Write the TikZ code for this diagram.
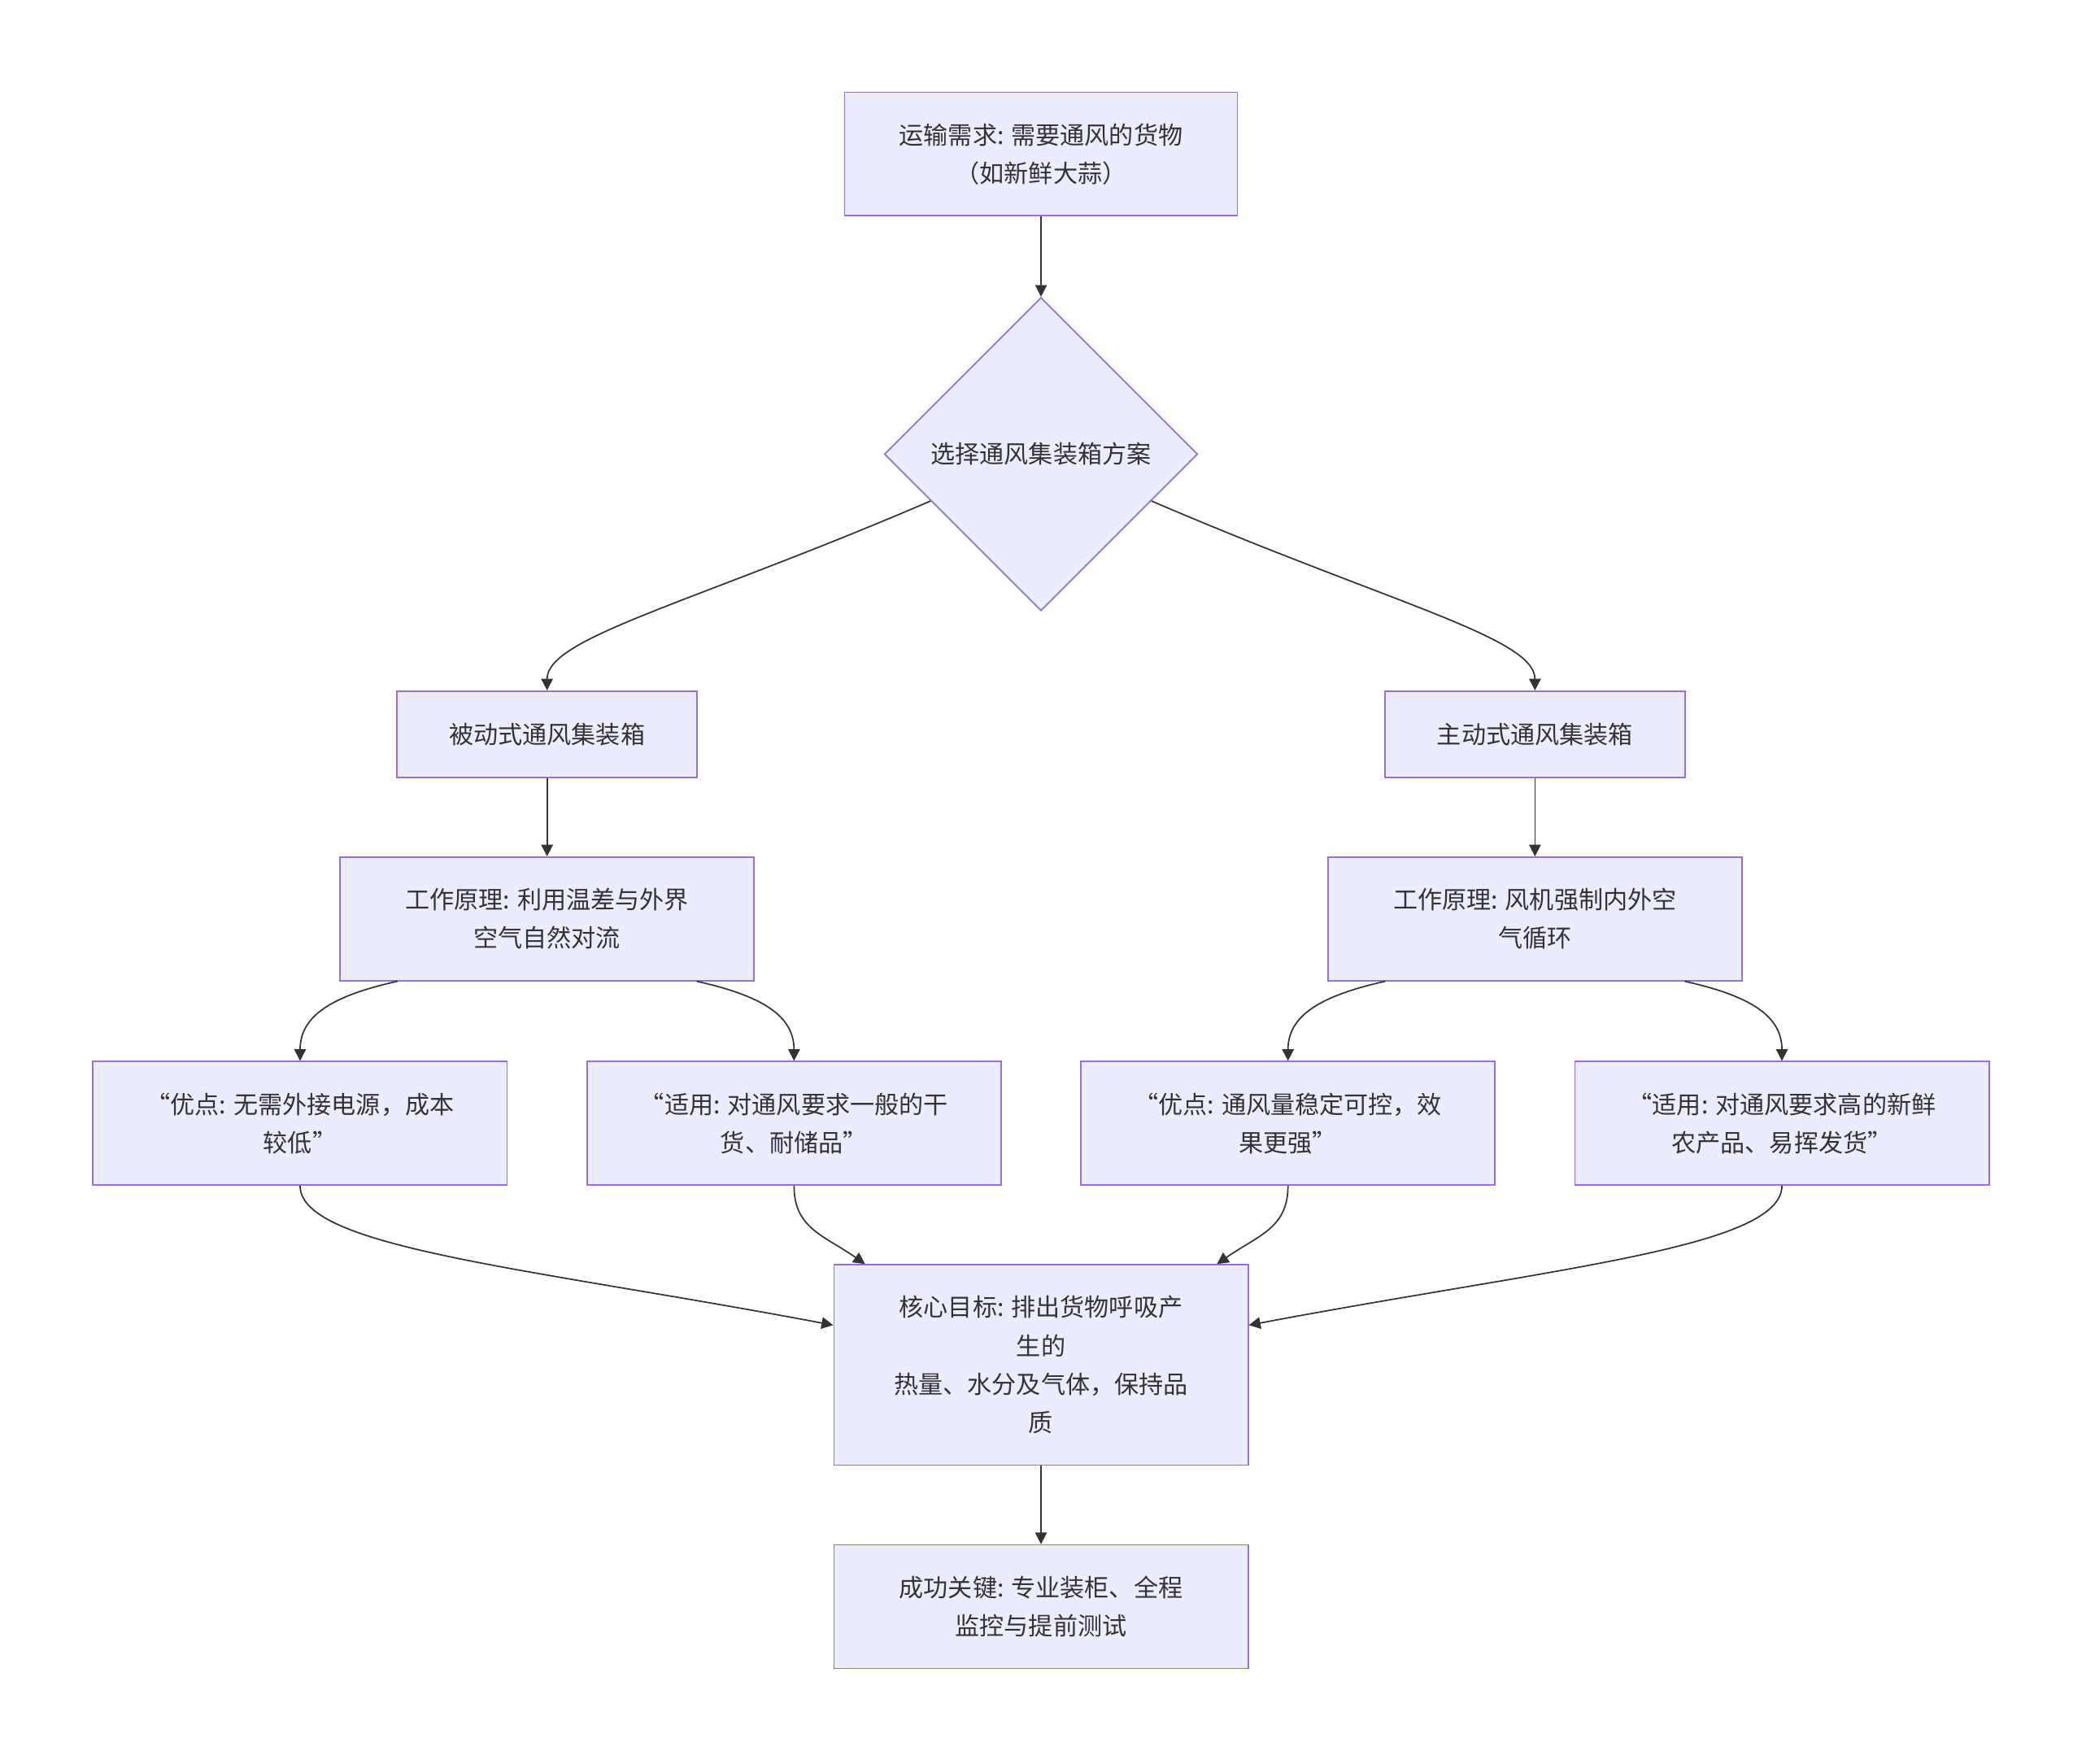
\documentclass[tikz,border=0pt]{standalone}
\usepackage{fontspec}
\setmainfont{Noto Sans CJK SC}
\usetikzlibrary{arrows.meta,shapes.geometric,calc}
\definecolor{boxfill}{HTML}{ECECFF}
\definecolor{boxline}{HTML}{9370DB}
\definecolor{edgeline}{HTML}{333333}
\begin{document}
\begin{tikzpicture}
  [x=0.02cm,y=-0.02cm,
  % Styles
  box/.style={draw=boxline,fill=boxfill,line width=0.6pt,align=center,
    inner sep=0pt,text=edgeline,font=\fontsize{10.5pt}{16.5pt}\selectfont},
  process/.style={box,minimum width=6.24cm,minimum height=1.86cm},
  small process/.style={box,minimum width=4.52cm,minimum height=1.30cm},
  decision/.style={box,diamond,minimum width=4.72cm,minimum height=4.72cm},
  flow/.style={draw=edgeline,line width=0.6pt,-{Triangle[length=5pt,width=5pt]}}]
  % Frame
  \useasboundingbox (0,0) rectangle (1568,1328);
  % Nodes
  \node[process,minimum width=5.92cm] (need) at (784,116) {运输需求: 需要通风的货物\\（如新鲜大蒜）};
  \node[decision] (choose) at (784,342) {选择通风集装箱方案};
  \node[small process] (passive) at (412,553) {被动式通风集装箱};
  \node[small process] (active) at (1156,553) {主动式通风集装箱};
  \node[process] (ppassive) at (412,692) {工作原理: 利用温差与外界\\空气自然对流};
  \node[process] (pactive) at (1156,692) {工作原理: 风机强制内外空\\气循环};
  \node[process] (pro1) at (226,846) {“优点: 无需外接电源，成本\\较低”};
  \node[process] (use1) at (598,846) {“适用: 对通风要求一般的干\\货、耐储品”};
  \node[process] (pro2) at (970,846) {“优点: 通风量稳定可控，效\\果更强”};
  \node[process] (use2) at (1342,846) {“适用: 对通风要求高的新鲜\\农产品、易挥发货”};
  \node[process,minimum height=3.02cm] (goal) at (784,1028) {核心目标: 排出货物呼吸产\\生的\\热量、水分及气体，保持品\\质};
  \node[process] (key) at (784,1210) {成功关键: 专业装柜、全程\\监控与提前测试};
  % Connectors
  \draw[flow] (need) -- (choose);
  \draw[flow] (choose.203) .. controls (520,455) and (412,480) .. (passive.north);
  \draw[flow] (choose.337) .. controls (1048,455) and (1156,480) .. (active.north);
  \draw[flow] (passive) -- (ppassive);
  \draw[flow] (active) -- (pactive);
  \draw[flow] ($(ppassive.south west)!0.14!(ppassive.south east)$) .. controls (250,750) and (226,765) .. (pro1.north);
  \draw[flow] ($(ppassive.south west)!0.86!(ppassive.south east)$) .. controls (574,750) and (598,765) .. (use1.north);
  \draw[flow] ($(pactive.south west)!0.14!(pactive.south east)$) .. controls (994,750) and (970,765) .. (pro2.north);
  \draw[flow] ($(pactive.south west)!0.86!(pactive.south east)$) .. controls (1318,750) and (1342,765) .. (use2.north);
  \draw[flow] (pro1.south) .. controls (226,940) and (400,955) .. ([yshift=0.6cm]goal.west);
  \draw[flow] (use1.south) .. controls (598,925) and (620,930) .. ([xshift=0.48cm]goal.north west);
  \draw[flow] (pro2.south) .. controls (970,925) and (948,930) .. ([xshift=-0.48cm]goal.north east);
  \draw[flow] (use2.south) .. controls (1342,940) and (1168,955) .. ([yshift=0.6cm]goal.east);
  \draw[flow] (goal) -- (key);
\end{tikzpicture}
\end{document}
